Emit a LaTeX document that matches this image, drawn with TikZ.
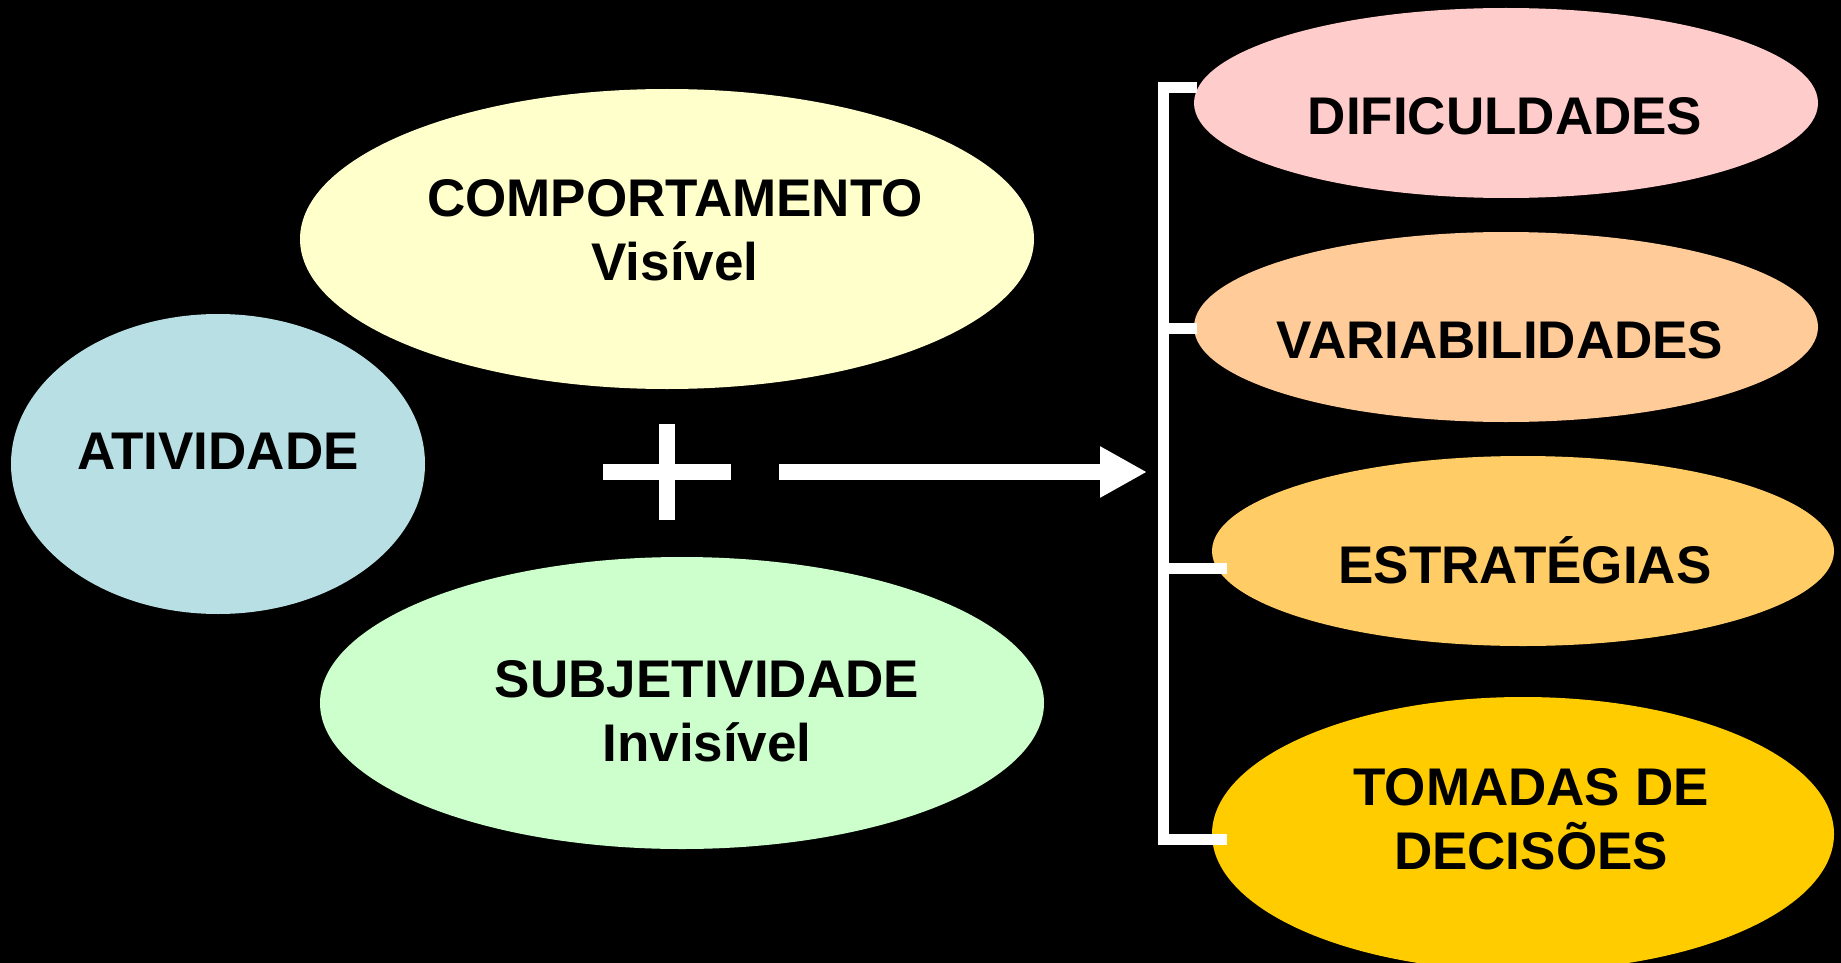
\documentclass[tikz,border=0pt]{standalone}
\usepackage{fontspec}
\setmainfont{Liberation Sans}
\usetikzlibrary{shapes.geometric,arrows.meta}
\definecolor{cAtiv}{HTML}{B7DFE4}
\definecolor{cComp}{HTML}{FFFFCC}
\definecolor{cSubj}{HTML}{CCFFCC}
\definecolor{cDif}{HTML}{FFCCCC}
\definecolor{cVar}{HTML}{FFCC99}
\definecolor{cEst}{HTML}{FFCC66}
\definecolor{cTom}{HTML}{FFCC00}
\tikzset{
  blob/.style={ellipse, draw=none, inner sep=0pt},
  lbl/.style={font=\fontsize{26.5pt}{32pt}\selectfont\bfseries, text=black, align=center, inner sep=0pt},
  lbl1/.style={lbl, text height=19pt, text depth=0pt},
  wline/.style={draw=white, line width=5.5pt, line join=miter},
  plusbar/.style={draw=white, line width=8pt},
}
\begin{document}
\begin{tikzpicture}[x=0.5pt,y=-0.5pt]
\fill[black] (0,0) rectangle (1841,963);
\useasboundingbox (0,0) rectangle (1841,963);
% left ellipses
\node[blob, fill=cAtiv, minimum width=207pt, minimum height=150pt] (ativ) at (218,464) {};
\node[blob, fill=cComp, minimum width=367pt, minimum height=150pt] (comp) at (667,239) {};
\node[blob, fill=cSubj, minimum width=362pt, minimum height=146pt] (subj) at (682,703) {};
% right ellipses
\node[blob, fill=cDif, minimum width=312pt, minimum height=95pt] (dif) at (1506,103) {};
\node[blob, fill=cVar, minimum width=312pt, minimum height=95pt] (var) at (1506,327) {};
\node[blob, fill=cEst, minimum width=311pt, minimum height=95pt] (est) at (1523,551) {};
\node[blob, fill=cTom, minimum width=311pt, minimum height=137pt] (tom) at (1523,834) {};
% labels
\node[lbl1] (tativ) at (218,450) {ATIVIDADE};
\node[lbl] (tcomp) at (675,230.5) {COMPORTAMENTO\\Visível};
\node[lbl] (tsubj) at (707,711.5) {SUBJETIVIDADE\\Invisível};
\node[lbl1] (tdif) at (1505,115) {DIFICULDADES};
\node[lbl1] (tvar) at (1500,339) {VARIABILIDADES};
\node[lbl1] (test) at (1525,564) {ESTRATÉGIAS};
\node[lbl] (ttom) at (1531,819.5) {TOMADAS DE\\DECISÕES};
% plus sign
\coordinate (pl) at (603,472);
\coordinate (pr) at (731,472);
\coordinate (pt) at (667,424);
\coordinate (pb) at (667,520);
\draw[plusbar] (pl) -- (pr);
\draw[plusbar] (pt) -- (pb);
% arrow
\coordinate (as) at (779,472);
\coordinate (ae) at (1147,472);
\draw[draw=white, line width=8pt, -{Triangle[length=23.5pt,width=24pt]}] (as) -- (ae);
% bracket
\coordinate (b1) at (1197,88);
\coordinate (b2) at (1197,328);
\coordinate (b3) at (1227,568);
\coordinate (b4) at (1227,839);
\draw[wline] (b1) -- (1163,88) -- (1163,839) -- (b4);
\draw[wline] (1163,328) -- (b2);
\draw[wline] (1163,568) -- (b3);
\end{tikzpicture}
\end{document}
